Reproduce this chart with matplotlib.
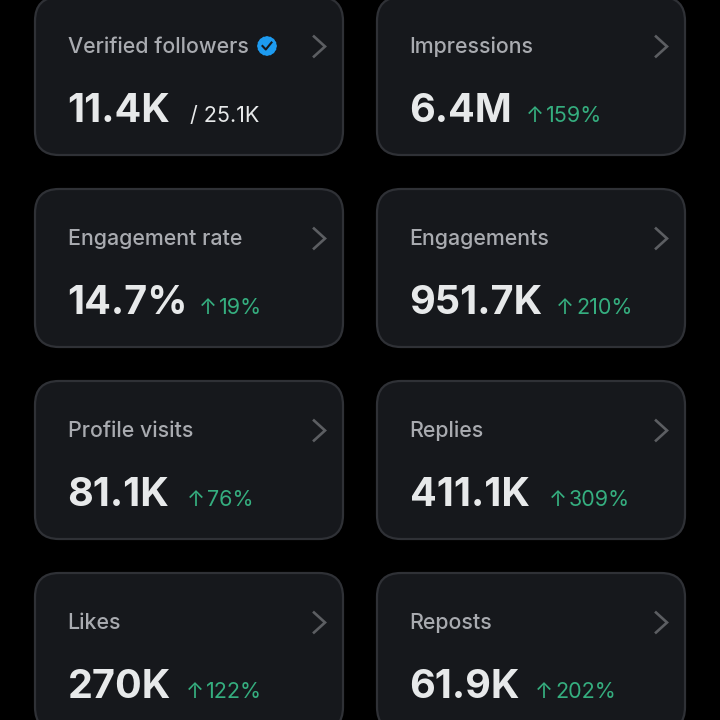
import matplotlib
matplotlib.use("Agg")
import matplotlib.pyplot as plt
from matplotlib.patches import FancyBboxPatch, RegularPolygon

plt.rcParams["font.family"] = ["Inter", "DejaVu Sans"]

# data
titles = ["Verified followers", "Impressions", "Engagement rate", "Engagements",
          "Profile visits", "Replies", "Likes", "Reposts"]
values = ["11.4K", "6.4M", "14.7%", "951.7K", "81.1K", "411.1K", "270K", "61.9K"]
changes = ["/ 25.1K", "159%", "19%", "210%", "76%", "309%", "122%", "202%"]

# colours
BG = "#000000"
CARD = "#16181c"
EDGE = "#2f3136"
TITLE = "#a9abb0"
VALUE = "#e7e9ea"
GREEN = "#35ae7f"
CHEVRON = "#5c5e62"
BADGE = "#1d9bf0"

# layout, in pixels
COL_X = [35, 377]
ROW_Y = [-3, 189, 381, 573]
CARD_W = 308
CARD_H = 158
SUB_X = [190, 526, 199, 556, 187, 549, 186, 535]  # where the small text starts

fig = plt.figure(figsize=(7.2, 7.2), dpi=100, facecolor=BG)
ax = fig.add_axes([0, 0, 1, 1])
ax.set_xlim(0, 720)
ax.set_ylim(720, 0)
ax.axis("off")

for i, title in enumerate(titles):
    x = COL_X[i % 2]
    y = ROW_Y[i // 2]

    ax.add_patch(FancyBboxPatch((x, y), CARD_W, CARD_H,
                                boxstyle="round,pad=0,rounding_size=24",
                                fc=CARD, ec=EDGE, lw=1.6))

    ax.text(x + 32.5, y + 55.6, title, color=TITLE, fontsize=15.4,
            fontweight="medium", va="baseline")

    # chevron on the right side
    ax.plot([x + 279, x + 290, x + 279], [y + 39.5, y + 49.5, y + 59.5],
            color=CHEVRON, lw=1.9, solid_joinstyle="miter")

    ax.text(x + 32.5, y + 125, values[i], color=VALUE, fontsize=28.5,
            fontweight="bold", va="baseline")

    if changes[i].startswith("/"):
        ax.text(SUB_X[i], y + 125, changes[i], color=VALUE, fontsize=15.5,
                va="baseline")
    else:
        ax.text(SUB_X[i], y + 125, "↑", color=GREEN, fontsize=15.5,
                va="baseline")
        ax.text(SUB_X[i] + 20, y + 125, changes[i], color=GREEN, fontsize=15.5,
                va="baseline")

# verified badge
ax.add_patch(RegularPolygon((267, 46), 8, radius=10, fc=BADGE, ec="none"))
ax.add_patch(RegularPolygon((267, 46), 8, radius=10, orientation=0.39, fc=BADGE, ec="none"))
ax.plot([262.5, 265.8, 271.5], [46, 49.5, 42.5], color=CARD, lw=1.5)

fig.savefig("out.png", dpi=100, facecolor=BG)
